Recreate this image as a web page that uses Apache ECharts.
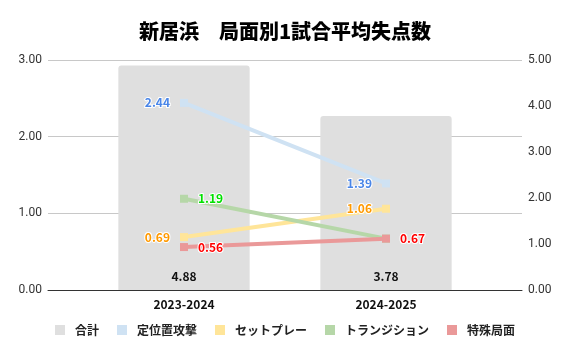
<!DOCTYPE html>
<html>
<head>
<meta charset="utf-8">
<script src="https://cdn.jsdelivr.net/npm/echarts@6/dist/echarts.min.js"></script>
<style>
  html, body { margin: 0; padding: 0; background: #fff; }
  #chart { width: 570px; height: 353px; }
</style>
</head>
<body>
<div id="chart"></div>
<script>
// データ
const seasons = ['2023-2024', '2024-2025']
const total = [4.88, 3.78]
const setPiece = [2.44, 1.39]      // 定位置攻撃
const setPlay = [0.69, 1.06]       // セットプレー
const transition = [1.19, 0.67]    // トランジション
const special = [0.56, 0.67]       // 特殊局面
const leftTicks = [0, 3, 1]        // min, max, interval
const rightTicks = [0, 5, 1]

const FONT = '"Noto Sans CJK JP", Roboto, sans-serif'

function lineSeries (name, values, color, labelColor, pos, hideIdx) {
  return {
    name: name,
    type: 'line',
    xAxisIndex: 1,
    yAxisIndex: 2,
    symbol: 'rect',
    symbolSize: 8,
    lineStyle: { width: 4, color: color },
    itemStyle: { color: color },
    label: {
      show: true,
      position: pos,
      distance: 10,
      color: labelColor,
      fontWeight: 'bold',
      fontSize: 12,
      fontFamily: FONT,
      textBorderColor: '#fff',
      textBorderWidth: 2,
      formatter: p => p.value.toFixed(2)
    },
    data: values.map((v, i) => i === hideIdx ? { value: v, label: { show: false } } : v)
  }
}

const chart = echarts.init(document.getElementById('chart'))
chart.setOption({
  animation: false,
  textStyle: { fontFamily: FONT },
  title: {
    text: '新居浜　局面別1試合平均失点数',
    left: 'center',
    top: 16,
    textStyle: { fontSize: 20, fontWeight: 900, color: '#000', fontFamily: FONT }
  },
  legend: {
    top: 319,
    left: 'center',
    icon: 'rect',
    itemWidth: 10,
    itemHeight: 10,
    itemGap: 18,
    textStyle: { fontSize: 12, fontWeight: 'bold', color: '#222', fontFamily: FONT, padding: [0, 0, 0, 5] },
    data: ['合計', '定位置攻撃', 'セットプレー', 'トランジション', '特殊局面']
  },
  grid: [
    { left: 48, right: 48, top: 60, bottom: 63 },
    { left: 83, right: 83, top: 60, bottom: 63 }
  ],
  xAxis: [
    {
      gridIndex: 0,
      type: 'category',
      data: seasons,
      axisLine: { show: true, lineStyle: { color: '#333', width: 1 } },
      axisTick: { show: false },
      axisLabel: { show: false }
    },
    {
      gridIndex: 1,
      type: 'category',
      data: seasons,
      axisLine: { show: false },
      axisTick: { show: false },
      axisLabel: { fontWeight: 'bold', fontSize: 12, color: '#111', margin: 8, fontFamily: FONT }
    }
  ],
  yAxis: [
    {
      gridIndex: 0,
      type: 'value',
      position: 'left',
      min: leftTicks[0], max: leftTicks[1], interval: leftTicks[2],
      axisLine: { show: false },
      axisTick: { show: false },
      axisLabel: { formatter: v => v.toFixed(2), color: '#333', fontSize: 12, margin: 6, fontFamily: 'Roboto, sans-serif' },
      splitLine: { lineStyle: { color: '#c8c8c8' } }
    },
    {
      gridIndex: 0,
      type: 'value',
      position: 'right',
      min: rightTicks[0], max: rightTicks[1], interval: rightTicks[2],
      axisLine: { show: false },
      axisTick: { show: false },
      axisLabel: { formatter: v => v.toFixed(2), color: '#333', fontSize: 12, margin: 6, fontFamily: 'Roboto, sans-serif' },
      splitLine: { show: false }
    },
    { gridIndex: 1, type: 'value', min: leftTicks[0], max: leftTicks[1], show: false, splitLine: { show: false } },
    { gridIndex: 1, type: 'value', min: rightTicks[0], max: rightTicks[1], show: false, splitLine: { show: false } }
  ],
  series: [
    {
      name: '合計',
      type: 'bar',
      xAxisIndex: 1,
      yAxisIndex: 3,
      barWidth: '65%',
      itemStyle: { color: '#dfdfdf', borderRadius: [3, 3, 0, 0] },
      label: {
        show: true,
        position: 'insideBottom',
        distance: 8,
        color: '#111',
        fontWeight: 'bold',
        fontSize: 12,
        fontFamily: FONT,
        formatter: p => p.value.toFixed(2)
      },
      data: total
    },
    lineSeries('定位置攻撃', setPiece, '#cfe2f3', '#4a86e8', 'left'),
    lineSeries('セットプレー', setPlay, '#ffe599', '#ff9900', 'left'),
    lineSeries('トランジション', transition, '#b6d7a8', '#00e000', 'right', 1),
    lineSeries('特殊局面', special, '#ea9999', '#ff0000', 'right')
  ]
})
</script>
</body>
</html>
